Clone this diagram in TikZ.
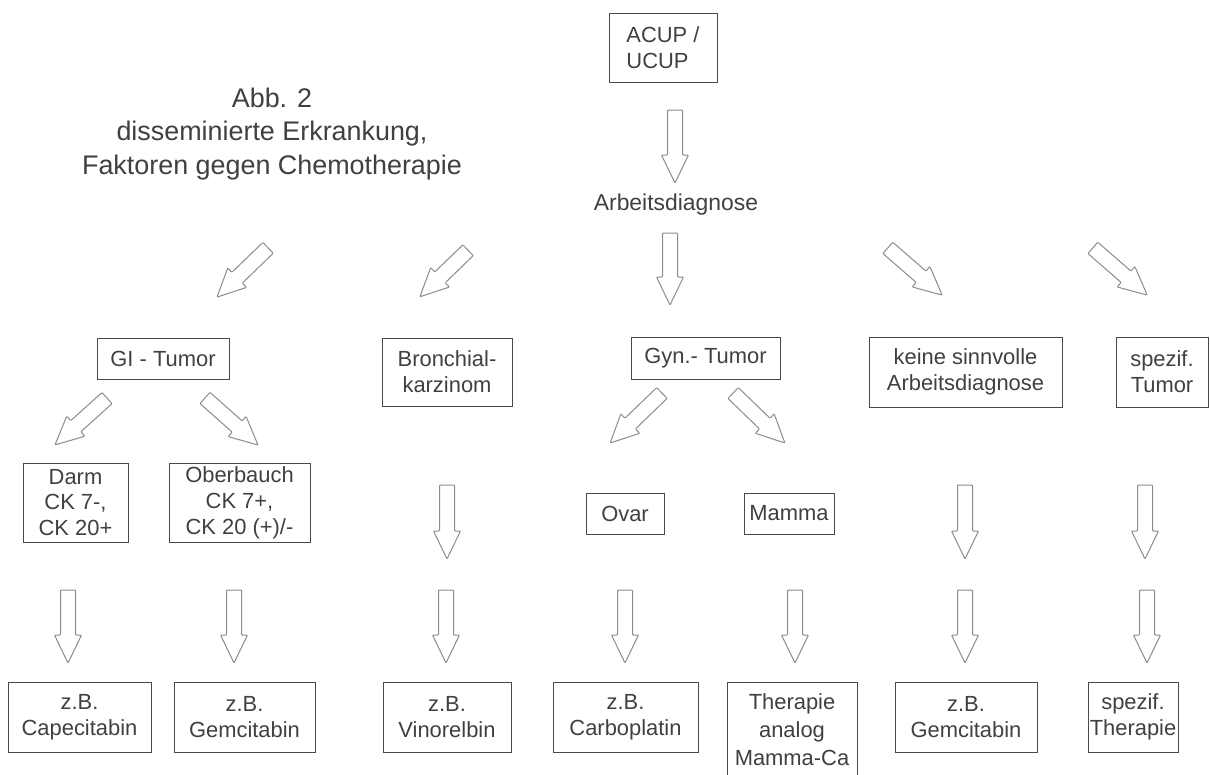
\documentclass[tikz,border=0pt]{standalone}
\usepackage{fontspec}
\setmainfont{Liberation Sans}
\definecolor{txt}{HTML}{404040}
\definecolor{boxc}{HTML}{4A4A4A}
\definecolor{arrc}{HTML}{8C8C8C}
\begin{document}
\begin{tikzpicture}[x=1bp,y=-1bp,
  every node/.style={font=\fontsize{22}{26}\selectfont, text=txt},
  box/.style={draw=boxc, line width=0.9bp, align=center, inner sep=0pt},
  pics/barrow/.style={code={
    \draw[draw=arrc, fill=white, line width=1bp, rounded corners=0.8bp, line join=round]
      (-#1/2,-7.5) -- (#1/2-28,-7.5) -- (#1/2-28,-13.5) -- (#1/2,0)
      -- (#1/2-28,13.5) -- (#1/2-28,7.5) -- (-#1/2,7.5) -- cycle;
    \coordinate (-tail) at (-#1/2,0);
    \coordinate (-tip) at (#1/2,0);
  }},
  pics/barrow/.default=73]
\clip (0,0) rectangle (1210,775);
\fill[white] (0,0) rectangle (1210,775);

% title
\node[font=\fontsize{27}{34}\selectfont, align=center] (title) at (272,134)
  {Abb. 2\\disseminierte Erkrankung,\\Faktoren gegen Chemotherapie};

% level 0/1
\node[box, align=left, minimum width=108bp, minimum height=69bp] (acup) at (663,47.5) {ACUP /\\UCUP};
\node[font=\fontsize{23}{26}\selectfont] (arb) at (676,205) {Arbeitsdiagnose};

% level 2 boxes
\node[box, minimum width=132bp, minimum height=41bp] (gi) at (163,358.5) {GI - Tumor};
\node[box, minimum width=130bp, minimum height=68bp] (bron) at (447,372) {Bronchial-\\karzinom};
\node[box, minimum width=149bp, minimum height=42bp] (gyn) at (705.5,358) {Gyn.- Tumor};
\node[box, minimum width=193bp, minimum height=70bp] (keine) at (965.5,372) {keine sinnvolle\\Arbeitsdiagnose};
\node[box, minimum width=92bp, minimum height=70bp] (spt) at (1162,372) {spezif.\\Tumor};

% level 3 boxes
\node[box, minimum width=105bp, minimum height=79bp] (darm) at (75.5,502.5) {Darm\\CK 7-,\\CK 20+};
\node[box, minimum width=141bp, minimum height=79bp] (ober) at (239.5,502.5) {Oberbauch\\CK 7+,\\CK 20 (+)/-};
\node[box, minimum width=78bp, minimum height=41bp] (ovar) at (625,513.5) {Ovar};
\node[box, minimum width=90bp, minimum height=41bp] (mamma) at (789,513.5) {Mamma};

% level 4 boxes
\node[box, minimum width=143bp, minimum height=70bp] (cape) at (79.5,717) {z.B.\\Capecitabin};
\node[box, minimum width=141bp, minimum height=70bp] (gem1) at (244.5,717) {z.B.\\Gemcitabin};
\node[box, minimum width=128bp, minimum height=70bp] (vino) at (447,717) {z.B.\\Vinorelbin};
\node[box, minimum width=145bp, minimum height=70bp] (carbo) at (625.5,717) {z.B.\\Carboplatin};
\node[box, minimum width=130bp, minimum height=96bp, font=\fontsize{22}{28}\selectfont] (thera) at (792,730) {Therapie\\analog\\Mamma-Ca};
\node[box, minimum width=142bp, minimum height=70bp] (gem2) at (966,717) {z.B.\\Gemcitabin};
\node[box, minimum width=90bp, minimum height=70bp] (spth) at (1133,717) {spezif.\\Therapie};

% block arrows
\pic[rotate=-90] (a0) at (675,146.5) {barrow};
\pic[rotate=-136] (a1) at (242.5,272.5) {barrow=71};
\pic[rotate=-136] (a2) at (444,273.5) {barrow=67};
\pic[rotate=-90] (a3) at (670,269) {barrow=72};
\pic[rotate=-41] (a4) at (915,271.5) {barrow=72};
\pic[rotate=-41] (a5) at (1120,271.5) {barrow=72};
\pic[rotate=-138] (a6) at (81,421.5) {barrow=70};
\pic[rotate=-41.6] (a7) at (231.5,421.5) {barrow=71};
\pic[rotate=-136] (a8) at (636,418) {barrow=72};
\pic[rotate=-44] (a9) at (759,418) {barrow=72};

\pic[rotate=-90] (b1) at (447,522) {barrow=74};
\pic[rotate=-90] (b2) at (965,522) {barrow=74};
\pic[rotate=-90] (b3) at (1145,522) {barrow=74};

\pic[rotate=-90] (c1) at (68,626.5) {barrow};
\pic[rotate=-90] (c2) at (234,626.5) {barrow};
\pic[rotate=-90] (c3) at (446,626.5) {barrow};
\pic[rotate=-90] (c4) at (625,626.5) {barrow};
\pic[rotate=-90] (c5) at (795,626.5) {barrow};
\pic[rotate=-90] (c6) at (965,626.5) {barrow};
\pic[rotate=-90] (c7) at (1147,626.5) {barrow};
\end{tikzpicture}
\end{document}
